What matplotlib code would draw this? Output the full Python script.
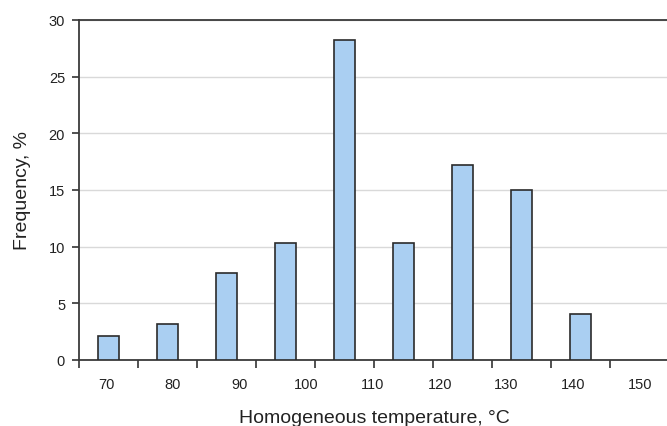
import matplotlib
matplotlib.use("Agg")
from matplotlib import pyplot as plt
import numpy as np

plt.rcParams['font.family'] = ['Liberation Sans', 'DejaVu Sans']

categories = [70, 80, 90, 100, 110, 120, 130, 140, 150]
bins = ['65-75', '75-85', '85-95', '95-105', '105-115', '115-125', '125-135', '135-145', '145-155', '155-165']
frequency = [2.1, 3.2, 7.7, 10.3, 28.2, 10.3, 17.2, 15.0, 4.1, 0.0]
y_ticks = [0, 5, 10, 15, 20, 25, 30]

W, H = 667, 427
fig = plt.figure(figsize=(W / 100, H / 100), dpi=100)
left, right, bottom, top = 79, 669, 361, 21
ax = fig.add_axes([left / W, 1 - bottom / H, (right - left) / W, (bottom - top) / H])

x = np.arange(len(bins))
edge_w = [1.2 if v > 0 else 0 for v in frequency]
ax.bar(x, frequency, width=0.36, color='#aacff2', edgecolor='#2b2b2b', linewidth=edge_w, zorder=3)

ax.set_xlim(-0.5, len(bins) - 0.5)
ax.set_ylim(0, 30)
ax.set_yticks(y_ticks)
ax.yaxis.grid(True, color='#d9d9d9', linewidth=1, zorder=0)

# tick marks sit on bin boundaries
ax.set_xticks(np.arange(len(bins)) - 0.5)
ax.set_xticklabels([])
ax.tick_params(axis='x', which='major', direction='out', length=6, width=1.2, color='#333333')

# temperature labels run on their own scale (70 -> px 106, 150 -> px 640)
px_per_deg = (640 - 106) / 80
label_pos = [(106 - left + px_per_deg * (t - 70)) / 59 - 0.5 for t in categories]
ax.set_xticks(label_pos, minor=True)
ax.set_xticklabels([str(c) for c in categories], minor=True)
ax.tick_params(axis='x', which='minor', length=0, pad=12.5, labelsize=10.5, labelcolor='#222222')

ax.tick_params(axis='y', direction='out', length=5, width=1.2, color='#333333', labelsize=10.5,
               labelcolor='#222222', pad=5)

for side in ['left', 'bottom', 'top']:
    ax.spines[side].set_color('#3a3a3a')
    ax.spines[side].set_linewidth(1.3)
ax.spines['right'].set_visible(False)

ax.set_ylabel('Frequency, %', fontsize=14, color='#222222', labelpad=13)
ax.set_xlabel('Homogeneous temperature, °C', fontsize=14, color='#222222', labelpad=13)

fig.savefig('out.png', dpi=100)
